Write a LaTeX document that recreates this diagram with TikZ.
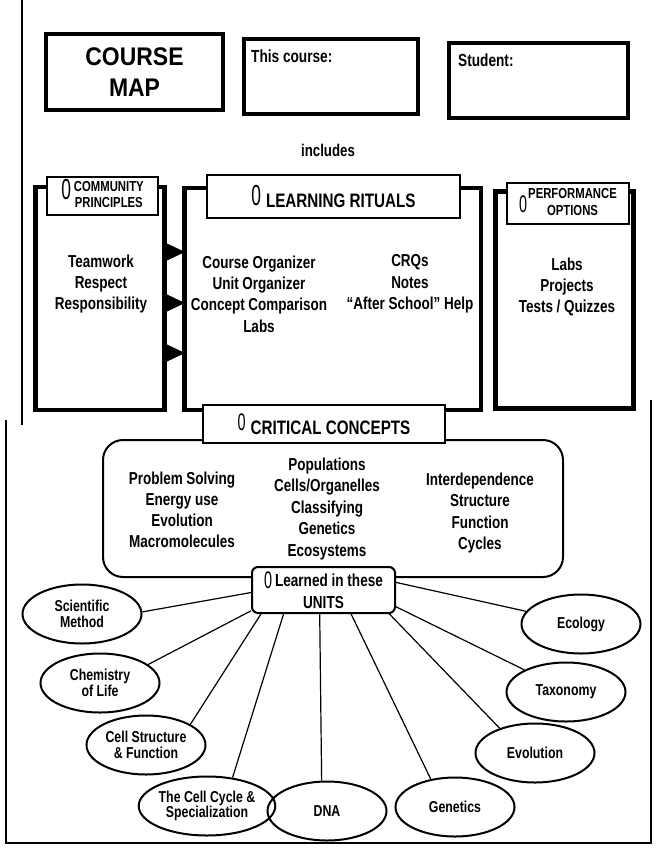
\documentclass[tikz,border=0pt]{standalone}
\usepackage{fontspec}
\setmainfont{Liberation Sans}[UprightFont = * Bold, BoldFont = * Bold, FakeStretch = 0.78]
\newfontfamily\titlefont{Liberation Sans}[UprightFont = * Bold, FakeStretch = 0.9]
\newfontfamily\zerofont{Liberation Sans}[FakeStretch = 0.6]
\usetikzlibrary{shapes.geometric}
\tikzset{titlebox/.style = {draw, rectangle, line width = 3.2pt, inner sep = 0}}
\tikzset{outerbox/.style = {draw, rectangle, line width = 4.5pt, inner sep = 0}}
\tikzset{headbox/.style = {draw, rectangle, fill = white, line width = 1.3pt, inner sep = 0}}
\tikzset{listtext/.style = {align = center, inner sep = 0, font = \fontsize{17.3}{21.3}\selectfont}}
\tikzset{unit/.style = {draw, ellipse, line width = 2pt, inner sep = 0, minimum width = 119, minimum height = 59, align = center, font = \fontsize{15.8}{15.5}\selectfont}}
\tikzset{spoke/.style = {line width = 1.2pt}}
\newcommand{\zeromark}[1]{{\zerofont\fontsize{#1}{#1}\selectfont 0}}

\begin{document}
\begin{tikzpicture}[x = 1pt, y = -1pt]
      \useasboundingbox (0, 0) rectangle (658, 852);
      \draw [line width = 1.5pt] (22, 0) -- (22, 425);
      \draw [line width = 1.5pt] (6, 420) -- (6, 843) -- (651, 843) -- (651, 400);

      \node [titlebox, minimum width = 177, minimum height = 76, align = center,
        font = \titlefont\fontsize{25.5}{31}\selectfont] (title) at (134.5, 72) {COURSE\\MAP};
      \node [titlebox, minimum width = 174, minimum height = 75] (course) at (331, 76.5) {};
      \node [anchor = west, inner sep = 0, font = \fontsize{17.5}{20}\selectfont] (coursetxt) at (251, 56) {This course:};
      \node [titlebox, minimum width = 179, minimum height = 75] (student) at (538.5, 80.5) {};
      \node [anchor = west, inner sep = 0, font = \fontsize{17.5}{20}\selectfont] (studenttxt) at (458, 60) {Student:};
      \node [inner sep = 0, font = \fontsize{17}{20}\selectfont] (incl) at (328, 150) {includes};

      \node [outerbox, minimum width = 129, minimum height = 223] (comm) at (100, 298.5) {};
      \node [outerbox, minimum width = 296.5, minimum height = 222] (learn) at (332.75, 299) {};
      \node [outerbox, minimum width = 138, minimum height = 217] (perf) at (564.5, 300) {};

      \foreach \y in {252, 303, 353} {
        \fill (166, \y - 9) -- (185, \y) -- (166, \y + 9) -- cycle;
      }

      \node [headbox, minimum width = 111, minimum height = 38, font = \fontsize{14.5}{16.5}\selectfont]
        (commhead) at (102.5, 196) {\zeromark{29}\hspace{3pt}\begin{tabular}[c]{@{}c@{}}COMMUNITY\\PRINCIPLES\end{tabular}};
      \node [headbox, minimum width = 253, minimum height = 43, font = \fontsize{19.5}{22}\selectfont]
        (learnhead) at (333.5, 196.5) {\raisebox{2pt}{\zeromark{29}}\hspace{5pt}LEARNING RITUALS\hspace{26pt}};
      \node [headbox, minimum width = 122, minimum height = 41, font = \fontsize{14.5}{16.5}\selectfont]
        (perfhead) at (568, 203.5) {\raisebox{-5pt}{\zeromark{24}}\hspace{1pt}\begin{tabular}[c]{@{}c@{}}PERFORMANCE\\OPTIONS\end{tabular}};

      \node [listtext] (commlist) at (101, 284) {Teamwork\\Respect\\Responsibility};
      \node [listtext] (learnleft) at (259, 294) {Course Organizer\\Unit Organizer\\Concept Comparison\\Labs};
      \node [listtext] (learnright) at (410, 284) {CRQs\\Notes\\``After School'' Help};
      \node [listtext] (perflist) at (567, 287) {Labs\\Projects\\Tests / Quizzes};

      \node [draw, line width = 2pt, rounded corners = 20pt, minimum width = 460, minimum height = 137] (crit) at (333, 508.5) {};
      \node [headbox, minimum width = 242, minimum height = 38, font = \fontsize{19.5}{22}\selectfont]
        (crithead) at (324, 424) {\raisebox{4pt}{\zeromark{24}}\hspace{5pt}CRITICAL CONCEPTS\hspace{12pt}};
      \node [listtext, font = \fontsize{17.3}{21}\selectfont] (critleft) at (182, 510) {Problem Solving\\Energy use\\Evolution\\Macromolecules};
      \node [listtext, font = \fontsize{17.3}{21.5}\selectfont] (critmid) at (327, 509) {Populations\\Cells/Organelles\\Classifying\\Genetics\\Ecosystems};
      \node [listtext, font = \fontsize{17.3}{21.5}\selectfont] (critright) at (480, 513) {Interdependence\\Structure\\Function\\Cycles};

      \node [draw, fill = white, line width = 2pt, rounded corners = 6pt, minimum width = 143, minimum height = 46,
        inner sep = 0, align = center, font = \fontsize{17.4}{22}\selectfont]
        (units) at (323.5, 590) {\raisebox{-2pt}{\zeromark{24}}\hspace{3pt}Learned in these\\UNITS};

      \node [unit] (sci) at (82, 614) {Scientific\\Method};
      \node [unit] (chem) at (100, 683) {Chemistry\\of Life};
      \node [unit] (cellstr) at (146, 745) {Cell Structure\\\& Function};
      \node [unit] (cycle) at (207, 806) {The Cell Cycle \&\\Specialization};
      \node [unit] (dna) at (327, 811) {DNA};
      \node [unit] (gen) at (455, 807) {Genetics};
      \node [unit] (evo) at (535, 753) {Evolution};
      \node [unit] (tax) at (566, 692) {Taxonomy};
      \node [unit] (eco) at (581, 624) {Ecology};

      \draw [spoke] (units.182) -- (sci.2);
      \draw [spoke] (units.196) -- (chem.21);
      \draw [spoke] (units.201) -- (cellstr.25);
      \draw [spoke] (units.211) -- (cycle.48);
      \draw [spoke] (units.261) -- (dna.100);
      \draw [spoke] (units.319) -- (gen.131);
      \draw [spoke] (units.340) -- (evo.145);
      \draw [spoke] (units.347) -- (tax.152);
      \draw [spoke] (units.6) -- (eco.167);
    \end{tikzpicture}
\end{document}
